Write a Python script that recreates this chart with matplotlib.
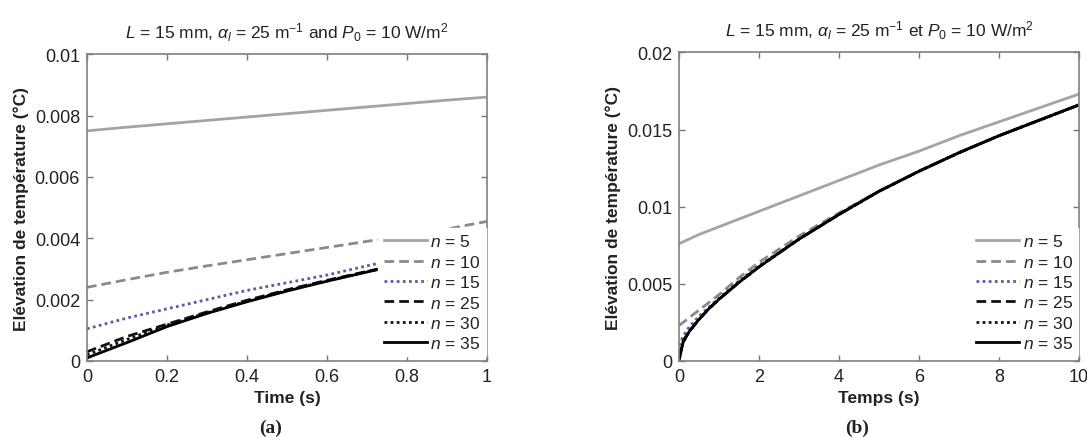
import numpy as np
import matplotlib
matplotlib.use('Agg')
import matplotlib.pyplot as plt

plt.rcParams['font.family'] = ['Liberation Sans', 'DejaVu Sans']
plt.rcParams['mathtext.fontset'] = 'custom'
plt.rcParams['mathtext.rm'] = 'Liberation Sans'
plt.rcParams['mathtext.it'] = 'Liberation Sans:italic'
plt.rcParams['mathtext.bf'] = 'Liberation Sans:bold'

# --- panel (a): short times, 0..1 s ---
t_a = [0.0, 0.1, 0.2, 0.3, 0.4, 0.5, 0.6, 0.7, 0.8, 0.9, 1.0]
a_n5 = [0.0075, 0.00762, 0.00773, 0.00784, 0.00795, 0.00806, 0.00817, 0.00828, 0.00839, 0.0085, 0.0086]
a_n10 = [0.0024, 0.00265, 0.00289, 0.0031, 0.0033, 0.0035, 0.0037, 0.0039, 0.0041, 0.0043, 0.00455]
a_n15 = [0.00105, 0.0014, 0.0017, 0.0020, 0.0023, 0.00255, 0.0028, 0.0031, 0.0034, 0.0037, 0.0039]
a_n25 = [0.0003, 0.0008, 0.0012, 0.0016, 0.00198, 0.00232, 0.00263, 0.00292, 0.0032, 0.0035, 0.0038]
a_n30 = [0.0002, 0.0007, 0.00117, 0.00157, 0.00195, 0.0023, 0.00261, 0.00291, 0.0032, 0.0035, 0.0038]
a_n35 = [0.0001, 0.0006, 0.00112, 0.00155, 0.00193, 0.00228, 0.0026, 0.0029, 0.0032, 0.0035, 0.0038]

# --- panel (b): longer times, 0..10 s ---
t_b = [0.0, 0.1, 0.25, 0.5, 0.75, 1.0, 1.5, 2.0, 3.0, 4.0, 5.0, 6.0, 7.0, 8.0, 9.0, 10.0]
b_n5 = [0.0076, 0.00772, 0.0079, 0.0082, 0.00845, 0.0087, 0.0092, 0.0097, 0.0107, 0.0117, 0.0127, 0.0136, 0.0146, 0.0155, 0.0164, 0.0173]
b_n10 = [0.0023, 0.0025, 0.0028, 0.0033, 0.0038, 0.0043, 0.0054, 0.0064, 0.0081, 0.0096, 0.0110, 0.0123, 0.0135, 0.0146, 0.0156, 0.0166]
b_n15 = [0.0010, 0.0016, 0.0022, 0.0029, 0.0035, 0.0041, 0.0052, 0.0062, 0.0079, 0.0095, 0.0110, 0.0123, 0.0135, 0.0146, 0.0156, 0.0166]
b_n25 = [0.0003, 0.0013, 0.0019, 0.0027, 0.0034, 0.0040, 0.0051, 0.0061, 0.0079, 0.0095, 0.0110, 0.0123, 0.0135, 0.0146, 0.0156, 0.0166]
b_n30 = [0.0002, 0.0012, 0.0019, 0.0027, 0.0034, 0.0040, 0.0051, 0.0061, 0.0079, 0.0095, 0.0110, 0.0123, 0.0135, 0.0146, 0.0156, 0.0166]
b_n35 = [0.0, 0.0012, 0.0019, 0.0027, 0.0034, 0.0040, 0.0051, 0.0061, 0.0079, 0.0095, 0.0110, 0.0123, 0.0135, 0.0146, 0.0156, 0.0166]

labels = ['$n$ = 5', '$n$ = 10', '$n$ = 15', '$n$ = 25', '$n$ = 30', '$n$ = 35']
colors = ['#a4a4a4', '#8a8a8a', '#5c5ca8', '#111111', '#111111', '#000000']
styles = ['-', (0, (3.5, 1.8)), (0, (1, 1.2)), (0, (3.5, 1.8)), (0, (1, 1.2)), '-']

fig = plt.figure(figsize=(10.87, 4.39), dpi=100)
ax_a = fig.add_axes([0.080, 0.1754, 0.368, 0.699])
ax_b = fig.add_axes([0.6247, 0.1754, 0.368, 0.703])

panels = [
    (ax_a, t_a, [a_n5, a_n10, a_n15, a_n25, a_n30, a_n35], 'Time (s)',
     r'$L$ = 15 mm, $\alpha_{l}$ = 25 m$^{\mathrm{-1}}$ and $P_{\mathit{0}}$ = 10 W/m$^{\mathrm{2}}$',
     (0, 1), (0, 0.01), np.arange(0, 1.01, 0.2), np.arange(0, 0.0101, 0.002), '(a)', 0.46),
    (ax_b, t_b, [b_n5, b_n10, b_n15, b_n25, b_n30, b_n35], 'Temps (s)',
     r'$L$ = 15 mm, $\alpha_{l}$ = 25 m$^{\mathrm{-1}}$ et $P_{\mathit{0}}$ = 10 W/m$^{\mathrm{2}}$',
     (0, 10), (0, 0.02), np.arange(0, 10.1, 2), np.arange(0, 0.0201, 0.005), '(b)', 0.445),
]

for ax, t, series, xlab, title, xl, yl, xt, yt, tag, tagx in panels:
    for y, lab, c, ls in zip(series, labels, colors, styles):
        ax.plot(t, y, color=c, linestyle=ls, linewidth=2.0, label=lab)
    ax.set_xlim(*xl)
    ax.set_ylim(*yl)
    ax.set_xticks(xt)
    ax.set_yticks(yt)
    ax.set_xticklabels(['%g' % v for v in xt])
    ax.set_yticklabels(['%g' % v for v in yt])
    ax.tick_params(direction='in', length=4, width=1, color='#777777',
                   top=True, right=True, labelsize=13, labelcolor='#222222', pad=5)
    for sp in ax.spines.values():
        sp.set_color('#808080')
        sp.set_linewidth(1.2)
    ax.set_xlabel(xlab, fontsize=12.5, fontweight='bold', color='#222222')
    ax.set_ylabel('Elévation de température (°C)', fontsize=12.5, fontweight='bold', color='#222222')
    ax.xaxis.set_label_coords(0.5, -0.095)
    ax.yaxis.set_label_coords(-0.145, 0.5)
    ax.set_title(title, fontsize=12.5, color='#222222', pad=12)
    leg = ax.legend(loc='lower right', bbox_to_anchor=(0.997, 0.015), fontsize=12.5,
                    handlelength=2.5, handletextpad=0.2, labelspacing=0.25,
                    borderpad=0.3, borderaxespad=0, frameon=True, fancybox=False)
    leg.get_frame().set_edgecolor('white')
    leg.get_frame().set_facecolor('white')
    leg.get_frame().set_alpha(1)
    for txt in leg.get_texts():
        txt.set_color('#222222')
    ax.text(tagx, -0.215, tag, transform=ax.transAxes, ha='center', va='center',
            fontsize=14, fontweight='bold', family='Liberation Serif', color='#222222')

fig.savefig('out.png', dpi=100)
